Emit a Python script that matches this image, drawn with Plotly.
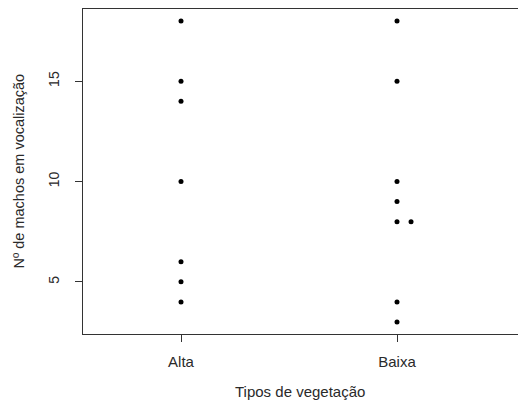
import plotly.graph_objects as go

categories = ["Alta", "Baixa"]
alta = [18, 15, 14, 10, 6, 5, 4]
baixa = [18, 15, 10, 9, 8, 8, 4, 3]
y_ticks = [5, 10, 15]
x_title = "Tipos de vegetação"
y_title = "Nº de machos em vocalização"

W, H = 524, 403
L, R, T, B = 83, 0, 9, 69
px_per_unit = 216.0
x_lo = 0.5463
xr = [x_lo, x_lo + (W - L - R) / px_per_unit]
yr = [2.4, 18.6]
stack_step = 0.065

def stacked(pos, values):
    xs, seen = [], {}
    for v in values:
        k = seen.get(v, 0)
        xs.append(pos + k * stack_step)
        seen[v] = k + 1
    return xs

fig = go.Figure()
for i, (name, vals) in enumerate(zip(categories, [alta, baixa])):
    fig.add_trace(go.Scatter(
        x=stacked(i + 1, vals), y=vals, mode="markers",
        marker=dict(color="black", size=5), showlegend=False, hoverinfo="skip"))

fam = "Liberation Sans, Arial, sans-serif"
tc = "#2a2a2a"
fig.update_layout(
    width=W, height=H, margin=dict(l=L, r=R, t=T, b=B),
    plot_bgcolor="white", paper_bgcolor="white",
    font=dict(family=fam, size=15, color=tc),
    xaxis=dict(range=xr, tickmode="array", tickvals=[1, 2], ticktext=categories,
               showgrid=False, zeroline=False, showline=True, mirror=True,
               linecolor="#333", linewidth=1, ticks="outside", ticklen=7,
               tickcolor="#333", ticklabelstandoff=7,
               tickfont=dict(family=fam, size=15, color=tc)),
    yaxis=dict(range=yr, tickmode="array", tickvals=y_ticks,
               showgrid=False, zeroline=False, showline=True, mirror=False,
               linecolor="#333", linewidth=1, ticks="outside", ticklen=7,
               tickcolor="#333", tickangle=-90, ticklabelstandoff=10,
               tickfont=dict(family=fam, size=14, color=tc)),
)
pw = W - L - R
ph = H - T - B
fig.add_annotation(text=x_title, xref="paper", yref="paper",
                   x=(300 - L) / pw, y=-(391 - (H - B)) / ph,
                   showarrow=False, xanchor="center", yanchor="middle",
                   font=dict(family=fam, size=15, color=tc))
fig.add_annotation(text=y_title, xref="paper", yref="paper",
                   x=(18 - L) / pw, y=0.5, textangle=-90,
                   showarrow=False, xanchor="center", yanchor="middle",
                   font=dict(family=fam, size=14.5, color=tc))
fig.write_html("out.html", config={"displayModeBar": False},
               post_script="document.body.style.margin='0';document.body.style.overflow='hidden';")
